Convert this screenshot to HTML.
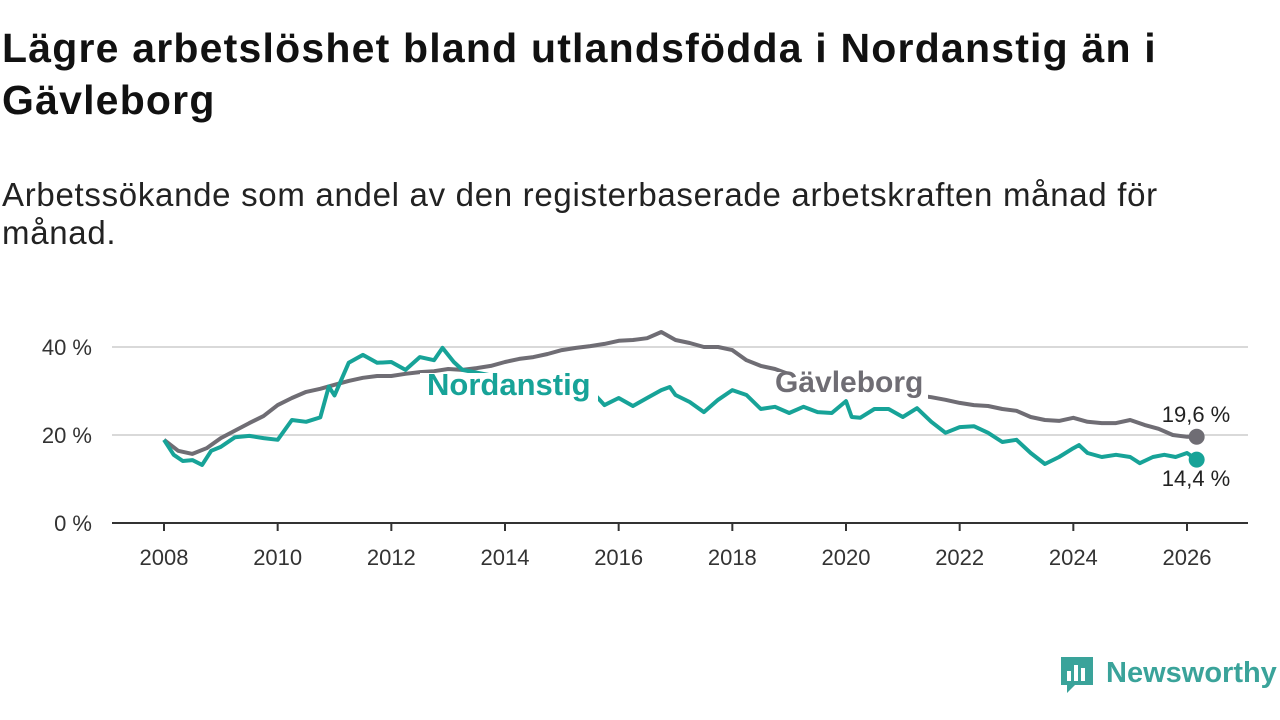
<!DOCTYPE html>
<html><head><meta charset="utf-8">
<style>
body{margin:0;width:1280px;height:720px;background:#fff;font-family:"Liberation Sans",sans-serif;overflow:hidden;position:relative}
h1{position:absolute;left:2px;top:22px;margin:0;font-size:41px;line-height:52px;font-weight:bold;color:#111;letter-spacing:1.2px;white-space:nowrap}
.sub{position:absolute;left:2px;top:176px;margin:0;font-size:33px;line-height:38px;color:#222;letter-spacing:0.7px;white-space:nowrap}
svg{position:absolute;left:0;top:0}
</style></head><body>
<h1>Lägre arbetslöshet bland utlandsfödda i Nordanstig än i<br>Gävleborg</h1>
<p class="sub">Arbetssökande som andel av den registerbaserade arbetskraften månad för<br>månad.</p>
<svg id="chart" width="1280" height="720"></svg>
<script>
const yTicks=[0,20,40];
const xTicks=[2008,2010,2012,2014,2016,2018,2020,2022,2024,2026];
const gavT=[2008,2008.25,2008.5,2008.75,2009,2009.25,2009.5,2009.75,2010,2010.25,2010.5,2010.75,2011,2011.25,2011.5,2011.75,2012,2012.25,2012.5,2012.75,2013,2013.25,2013.5,2013.75,2014,2014.25,2014.5,2014.75,2015,2015.25,2015.5,2015.75,2016,2016.25,2016.5,2016.75,2017,2017.25,2017.5,2017.75,2018,2018.25,2018.5,2018.75,2019,2019.5,2020,2020.5,2021,2021.5,2021.75,2022,2022.25,2022.5,2022.75,2023,2023.25,2023.5,2023.75,2024,2024.25,2024.5,2024.75,2025,2025.25,2025.5,2025.75,2026,2026.17];
const gavV=[18.9,16.4,15.7,17,19.3,21,22.7,24.3,26.8,28.4,29.8,30.5,31.4,32.3,33,33.4,33.4,33.9,34.3,34.5,35,34.8,35.2,35.7,36.6,37.3,37.7,38.4,39.3,39.8,40.2,40.7,41.4,41.6,42,43.4,41.6,40.9,40,40,39.3,37,35.7,35,33.8,32.5,31.5,30.5,29.5,28.6,28,27.3,26.8,26.6,25.9,25.5,24.1,23.4,23.2,23.9,23,22.7,22.7,23.4,22.3,21.4,20,19.6,19.6];
const norT=[2008,2008.17,2008.33,2008.5,2008.67,2008.83,2009,2009.25,2009.5,2009.75,2010,2010.25,2010.5,2010.75,2010.9,2011,2011.25,2011.5,2011.75,2012,2012.25,2012.5,2012.75,2012.9,2013.1,2013.25,2015.6,2015.75,2016,2016.25,2016.5,2016.75,2016.9,2017,2017.25,2017.5,2017.75,2018,2018.25,2018.5,2018.75,2019,2019.25,2019.5,2019.75,2020,2020.1,2020.25,2020.5,2020.75,2021,2021.25,2021.5,2021.75,2022,2022.25,2022.5,2022.75,2023,2023.25,2023.5,2023.75,2024,2024.1,2024.25,2024.5,2024.75,2025,2025.17,2025.4,2025.6,2025.8,2026,2026.17];
const norV=[18.9,15.5,14.1,14.3,13.2,16.4,17.3,19.5,19.8,19.3,18.9,23.4,23,24,31,29,36.4,38.2,36.4,36.6,34.8,37.7,37,39.8,36.6,34.8,28.9,26.8,28.4,26.6,28.4,30.2,30.9,29.1,27.5,25.2,28,30.2,29.1,25.9,26.4,25,26.4,25.2,25,27.7,24.1,23.9,25.9,25.9,24.1,26.1,23,20.5,21.8,22,20.5,18.4,18.9,15.9,13.4,15,17,17.7,15.9,15,15.5,15,13.6,15,15.5,15,15.9,14.4];
const NS="http://www.w3.org/2000/svg";
const svg=document.getElementById('chart');
const X=t=>164+(t-2008)*(1187-164)/18;
const Y=v=>523-v*4.4;
function mk(tag,attrs,txt){const e=document.createElementNS(NS,tag);for(const k in attrs)e.setAttribute(k,attrs[k]);if(txt!=null)e.textContent=txt;svg.appendChild(e);return e;}
yTicks.forEach(v=>{
  if(v>0){const g=mk('line',{x1:112,x2:1248,y1:Y(v),y2:Y(v),stroke:'#d9d9d9','stroke-width':2});
  
  }
  const t=mk('text',{x:92,y:Y(v)+8,'text-anchor':'end','font-size':22,fill:'#333'},v+' %');
  
  
});
const ax=mk('line',{x1:112,x2:1248,y1:523,y2:523,stroke:'#333','stroke-width':2});


xTicks.forEach(yr=>{
  const tk=mk('line',{x1:X(yr),x2:X(yr),y1:523,y2:531,stroke:'#333','stroke-width':2});
  
  
  const t=mk('text',{x:X(yr),y:565,'text-anchor':'middle','font-size':22,fill:'#333'},yr);
  
  
});
function line(T,V,col,name){
  const d=T.map((t,i)=>(i?'L':'M')+X(t).toFixed(1)+','+Y(V[i]).toFixed(1)).join('');
  const p=mk('path',{d:d,fill:'none',stroke:col,'stroke-width':4,'stroke-linejoin':'round'});
  
  
}
function endDot(T,V,col,name){
  const n=T.length-1;
  const c=mk('circle',{cx:X(T[n]),cy:Y(V[n]),r:8,fill:col});
  
  
}
line(gavT,gavV,'#6f6d74','gavleborg');
function box(x,y,w,h,name){
  const r=mk('rect',{x:x,y:y,width:w,height:h,fill:'#fff'});
  
  
}
box(768,372,160,30,'gavleborg-label-bg');
line(norT,norV,'#17a398','nordanstig');
box(420,373,178,30,'nordanstig-label-bg');
endDot(gavT,gavV,'#6f6d74','gavleborg');
endDot(norT,norV,'#17a398','nordanstig');
function lbl(x,y,txt,col,size,weight,anchor,name){
  const t=mk('text',{x:x,y:y,'font-size':size,'font-weight':weight,fill:col,'text-anchor':anchor},txt);
  
  
}
lbl(427,395,'Nordanstig','#17a398',31,'bold','start','nordanstig-label');
lbl(775,392,'Gävleborg','#6f6d74',30,'bold','start','gavleborg-label');
lbl(1196,422,'19,6 %','#222',22,'normal','middle','gavleborg-value-label');
lbl(1196,486,'14,4 %','#222',22,'normal','middle','nordanstig-value-label');
</script>
<div style="position:absolute;left:1059px;top:655px;width:220px;height:42px">
  <svg width="36" height="40" style="position:absolute;left:0;top:0" viewBox="0 0 36 40">
    <path d="M2 2h32v28H16l-8 8v-8H2z" fill="#3aa39a"/>
    <rect x="8" y="16" width="4" height="10" fill="#fff"/><rect x="15" y="10" width="4" height="16" fill="#fff"/><rect x="22" y="13" width="4" height="13" fill="#fff"/>
  </svg>
  <span style="position:absolute;left:47px;top:0;font-size:29px;font-weight:bold;color:#3aa39a;line-height:36px">Newsworthy</span>
</div>
</body></html>
